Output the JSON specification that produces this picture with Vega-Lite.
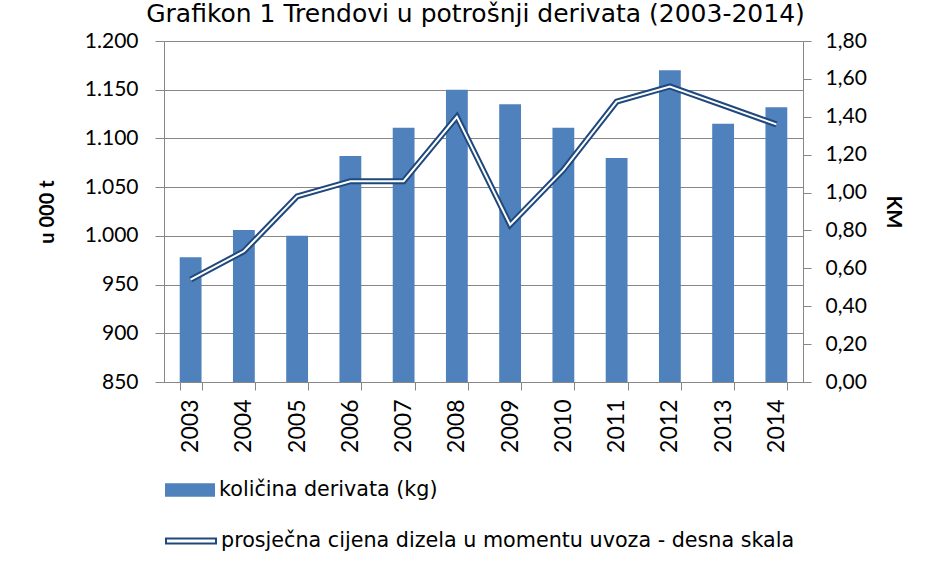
{
  "$schema": "https://vega.github.io/schema/vega-lite/v6.json",
  "width": 639,
  "height": 341,
  "autosize": {"type": "none"},
  "padding": {"left": 164, "top": 41, "right": 128, "bottom": 185},
  "background": "white",
  "title": {
    "text": "Grafikon 1 Trendovi u potrošnji derivata (2003-2014)",
    "font": "DejaVu Sans",
    "fontSize": 25,
    "fontWeight": "normal",
    "color": "#000",
    "anchor": "middle",
    "frame": "group",
    "baseline": "alphabetic",
    "offset": 8,
    "dx": -8,
    "dy": 25
  },
  "config": {
    "locale": {"number": {"decimal": ",", "thousands": ".", "grouping": [3], "currency": ["", ""]}},
    "view": {"stroke": null},
    "axis": {
      "labelFont": "Lato",
      "labelFontSize": 21,
      "labelColor": "#000",
      "labelOverlap": false,
      "domainColor": "#878787",
      "tickColor": "#878787",
      "gridColor": "#878787",
      "titleFont": "Lato",
      "titleFontWeight": "bold",
      "titleFontSize": 20,
      "titleColor": "#000"
    }
  },
  "data": {
    "values": [
      {"year": "2003", "kolicina": 978, "cijena": 0.54},
      {"year": "2004", "kolicina": 1006, "cijena": 0.69},
      {"year": "2005", "kolicina": 1000, "cijena": 0.98},
      {"year": "2006", "kolicina": 1082, "cijena": 1.06},
      {"year": "2007", "kolicina": 1111, "cijena": 1.06},
      {"year": "2008", "kolicina": 1150, "cijena": 1.40},
      {"year": "2009", "kolicina": 1135, "cijena": 0.83},
      {"year": "2010", "kolicina": 1111, "cijena": 1.12},
      {"year": "2011", "kolicina": 1080, "cijena": 1.48},
      {"year": "2012", "kolicina": 1170, "cijena": 1.56},
      {"year": "2013", "kolicina": 1115, "cijena": 1.46},
      {"year": "2014", "kolicina": 1132, "cijena": 1.36}
    ]
  },
  "layer": [
    {
      "mark": {"type": "bar"},
      "encoding": {
        "x": {
          "field": "year",
          "type": "nominal",
          "scale": {"paddingInner": 0.59, "paddingOuter": 0.295},
          "axis": {
            "title": null,
            "labelAngle": -90,
            "labelFontSize": 23,
            "tickBand": "extent",
            "tickSize": 8,
            "labelPadding": 9,
            "grid": false
          }
        },
        "y": {
          "field": "kolicina",
          "type": "quantitative",
          "scale": {"domain": [850, 1200], "zero": false, "nice": false},
          "axis": {
            "title": "u 000 t",
            "values": [850, 900, 950, 1000, 1050, 1100, 1150, 1200],
            "format": ",.0f",
            "tickSize": 9,
            "labelPadding": 17,
            "titlePadding": 27,
            "grid": true
          }
        },
        "y2": {"datum": 850},
        "fill": {
          "datum": "količina derivata (kg)",
          "scale": {"range": ["#4F81BD"]},
          "legend": {
            "orient": "none",
            "legendX": 1,
            "legendY": 424,
            "title": null,
            "padding": 0,
            "symbolType": "M-1,-0.27L1,-0.27L1,0.27L-1,0.27Z",
            "symbolSize": 2500,
            "symbolStrokeWidth": 0,
            "labelFont": "DejaVu Sans",
            "labelFontSize": 20.7,
            "labelColor": "#000",
            "labelLimit": 800,
            "labelOffset": 4
          }
        }
      }
    },
    {
      "encoding": {
        "x": {"field": "year", "type": "nominal"},
        "y": {
          "field": "cijena",
          "type": "quantitative",
          "scale": {"domain": [0, 1.8], "nice": false},
          "axis": {
            "title": "KM",
            "orient": "right",
            "values": [0, 0.2, 0.4, 0.6, 0.8, 1.0, 1.2, 1.4, 1.6, 1.8],
            "format": ".2f",
            "tickSize": 8,
            "labelPadding": 14,
            "titlePadding": 16,
            "grid": false
          }
        }
      },
      "layer": [
        {
          "mark": {"type": "line", "strokeWidth": 6},
          "encoding": {
            "stroke": {
              "datum": "prosječna cijena dizela u momentu uvoza - desna skala",
              "scale": {"range": ["#1F497D"]},
              "legend": {
                "orient": "none",
                "legendX": 1,
                "legendY": 474,
                "title": null,
                "padding": 0,
                "symbolType": "M-1,-0.1L1,-0.1L1,0.1L-1,0.1Z",
                "symbolSize": 2500,
                "symbolStrokeWidth": 2,
                "symbolFillColor": "white",
                "labelFont": "DejaVu Sans",
                "labelFontSize": 20.7,
                "labelColor": "#000",
                "labelLimit": 800,
                "labelOffset": 4
              }
            }
          }
        },
        {
          "mark": {"type": "line", "strokeWidth": 2, "color": "white"},
          "encoding": {}
        }
      ]
    }
  ],
  "resolve": {"scale": {"y": "independent"}}
}
